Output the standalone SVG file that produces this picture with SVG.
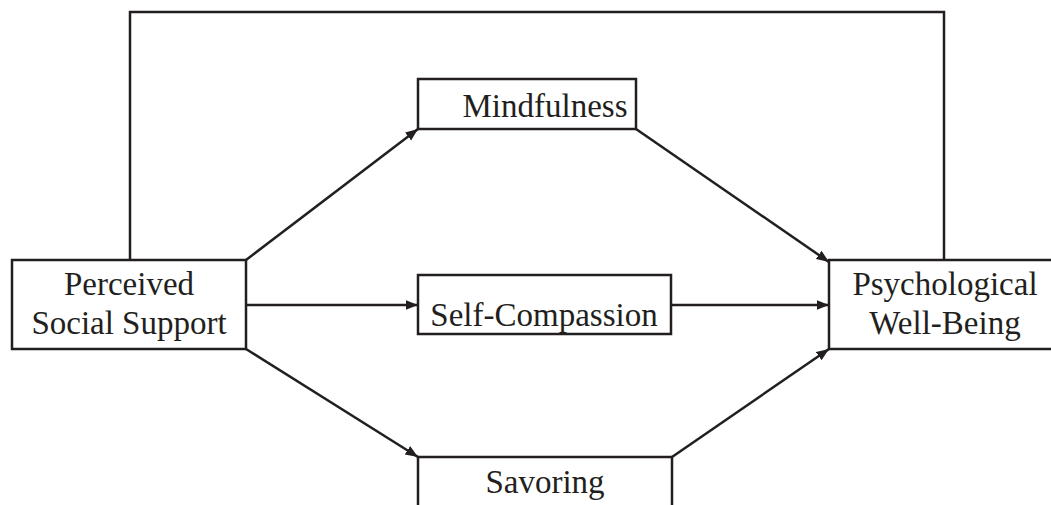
<svg xmlns="http://www.w3.org/2000/svg" width="1051" height="505" viewBox="0 0 1051 505">
<defs>
<style>
.box{fill:#fff;stroke:#231f20;stroke-width:2.5}
.lbl{font-family:"Liberation Serif","Times New Roman",serif;font-size:33px;fill:#231f20;text-anchor:middle}
.conn{fill:none;stroke:#231f20;stroke-width:2.5}
</style>
<marker id="ah" viewBox="0 0 10 10" refX="10" refY="5" markerWidth="5" markerHeight="5" orient="auto" markerUnits="strokeWidth">
<path d="M0,1 L10,5 L0,9 Z" fill="#231f20"/>
</marker>
</defs>
<rect width="1051" height="505" fill="#fff"/>
<g id="connectors">
<polyline class="conn" points="130,260 130,12 944,12 944,260"/>
<line class="conn" x1="246" y1="260" x2="418" y2="129" marker-end="url(#ah)"/>
<line class="conn" x1="246" y1="305" x2="418" y2="305" marker-end="url(#ah)"/>
<line class="conn" x1="246" y1="349" x2="418" y2="457" marker-end="url(#ah)"/>
<line class="conn" x1="636" y1="129" x2="829" y2="262" marker-end="url(#ah)"/>
<line class="conn" x1="671" y1="305" x2="829" y2="305" marker-end="url(#ah)"/>
<line class="conn" x1="672" y1="457" x2="829" y2="349" marker-end="url(#ah)"/>
</g>
<g id="pss">
<rect class="box" x="12" y="260" width="234" height="89"/>
<text class="lbl" x="129" y="295">Perceived</text>
<text class="lbl" x="129" y="334">Social Support</text>
</g>
<g id="mindfulness">
<rect class="box" x="418" y="79" width="218" height="50"/>
<text class="lbl" x="545" y="117">Mindfulness</text>
</g>
<g id="selfcompassion">
<rect class="box" x="418" y="275" width="253" height="59"/>
<text class="lbl" x="544" y="326">Self-Compassion</text>
</g>
<g id="savoring">
<rect class="box" x="418" y="457" width="254" height="60"/>
<text class="lbl" x="545" y="493">Savoring</text>
</g>
<g id="pwb">
<rect class="box" x="829" y="260" width="240" height="89"/>
<text class="lbl" x="945" y="295">Psychological</text>
<text class="lbl" x="945" y="334">Well-Being</text>
</g>
</svg>
